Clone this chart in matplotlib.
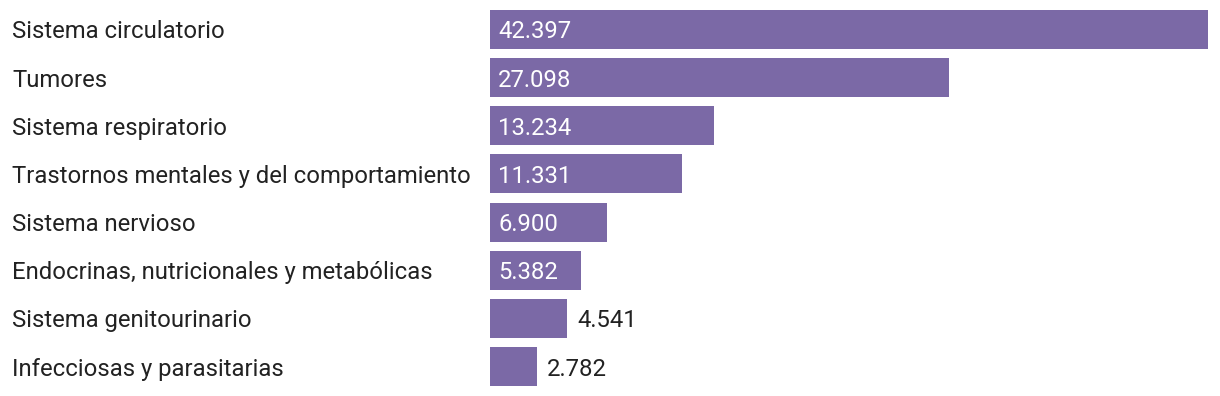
import matplotlib.pyplot as plt
import matplotlib.transforms as mtransforms

plt.rcParams['font.family'] = ['Roboto', 'DejaVu Sans']

categorias = [
    'Sistema circulatorio',
    'Tumores',
    'Sistema respiratorio',
    'Trastornos mentales y del comportamiento',
    'Sistema nervioso',
    'Endocrinas, nutricionales y metabólicas',
    'Sistema genitourinario',
    'Infecciosas y parasitarias',
]
valores = [42397, 27098, 13234, 11331, 6900, 5382, 4541, 2782]

color_barra = '#7b69a6'
color_texto = '#222222'

W, H = 1220, 396
fig = plt.figure(figsize=(W / 100, H / 100), dpi=100)
ax = fig.add_axes([490 / W, (H - 386) / H, (1208 - 490) / W, 376 / H])

y = list(range(len(categorias)))
alto = 0.81
ax.barh(y, valores, height=alto, color=color_barra)
ax.set_xlim(0, max(valores))
ax.set_ylim(len(categorias) - 1 + alto / 2, -alto / 2)
ax.axis('off')

fmt = lambda v: f'{v:,}'.replace(',', '.')
px = max(valores) / (1208 - 490)  # datos por pixel
fs = 17.2

trans = mtransforms.blended_transform_factory(fig.transFigure, ax.transData)
for yi, cat, v in zip(y, categorias, valores):
    ax.text(12 / W, yi, cat, transform=trans, ha='left', va='center_baseline',
            fontsize=fs, color=color_texto)
    if v > 5000:
        ax.text(8 * px, yi, fmt(v), ha='left', va='center_baseline',
                fontsize=fs, color='white')
    else:
        ax.text(v + 10 * px, yi, fmt(v), ha='left', va='center_baseline',
                fontsize=fs, color=color_texto)

fig.savefig('out.png', dpi=100)
